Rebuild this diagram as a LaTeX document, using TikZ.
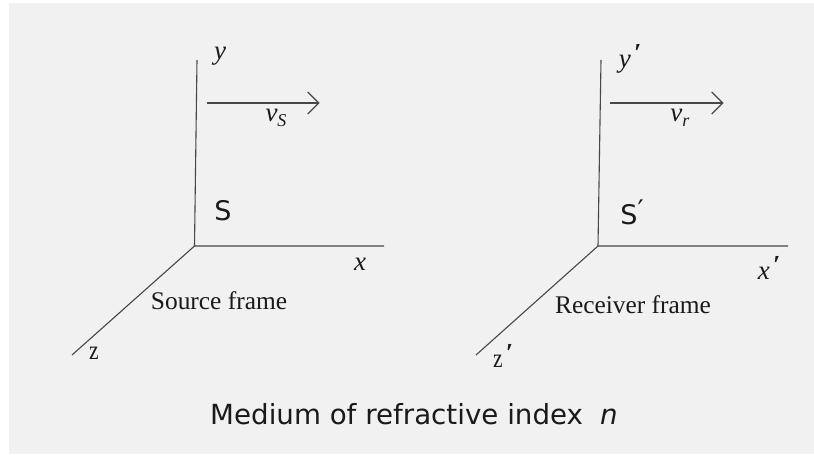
\documentclass[tikz,border=0pt]{standalone}
\usepackage{fontspec}
\usetikzlibrary{arrows.meta}
\setmainfont{Liberation Serif}
\newfontfamily\dejavu{DejaVu Sans}
\definecolor{panel}{HTML}{F1F1F1}
\definecolor{ink}{HTML}{1A1A1A}
\newcommand{\subtxt}[1]{\raisebox{-4.5pt}{\fontsize{18}{18}\selectfont\textit{#1}}}
\newcommand{\primemark}{\raisebox{6pt}{\fontsize{26}{26}\selectfont\textbf{\textit{\kern3pt\char"2032}}}}
\newcommand{\narrowz}{\scalebox{0.8}[1]{z}}
\begin{document}
\begin{tikzpicture}[x=1pt,y=-1pt,
  axisline/.style={draw=black!72,line width=1.1pt},
  velarrow/.style={draw=black!72,line width=1.1pt,-{Straight Barb[length=11pt,width=22pt,line width=1.1pt]}},
  serif/.style={inner sep=0pt,text=ink,font=\fontsize{27}{29}\selectfont},
  frameName/.style={inner sep=0pt,text=ink,font=\fontsize{25.4}{28}\selectfont},
  frameS/.style={inner sep=0pt,text=ink,font=\dejavu\fontsize{27}{29}\selectfont}]
\useasboundingbox (0,0) rectangle (814,455);
\fill[white] (0,0) rectangle (814,455);
\fill[panel] (9,3) rectangle (814,454);
% Source frame
\coordinate (o1) at (194.5,246);
\coordinate (y1) at (197,60);
\coordinate (x1) at (384,246);
\coordinate (z1) at (72,355);
\coordinate (a1) at (207,103);
\coordinate (b1) at (319.5,103);
\draw[axisline] (y1) -- (o1) -- (x1);
\draw[axisline] (o1) -- (z1);
\draw[velarrow] (a1) -- (b1);
\node[serif] (ly1) at (220,56) {\textit{y}};
\node[serif] (lx1) at (360,264) {\textit{x}};
\node[serif] (lz1) at (94,353) {\narrowz};
\node[serif] (lv1) at (276,118) {\textit{v}\subtxt{S}};
\node[frameS] (ls1) at (223,211) {S};
\node[frameName] (fn1) at (219,300.5) {Source frame};
% Receiver frame
\coordinate (o2) at (598,246);
\coordinate (y2) at (601,60);
\coordinate (x2) at (788,246);
\coordinate (z2) at (476,355);
\coordinate (a2) at (610,103);
\coordinate (b2) at (723.5,103);
\draw[axisline] (y2) -- (o2) -- (x2);
\draw[axisline] (o2) -- (z2);
\draw[velarrow] (a2) -- (b2);
\node[serif] (ly2) at (630,59) {\textit{y}\primemark};
\node[serif] (lx2) at (769,268) {\textit{x}\primemark};
\node[serif] (lz2) at (503,356) {\narrowz\primemark};
\node[serif] (lv2) at (680,118) {\textit{v}\subtxt{r}};
\node[frameS] (ls2) at (632,212) {S\raisebox{5pt}{\fontsize{27}{27}\selectfont\char"2032}};
\node[frameName] (fn2) at (633,305) {Receiver frame};
\node[inner sep=0pt,text=ink,font=\dejavu\fontsize{27.7}{30}\selectfont] (medium) at (414,414) {Medium of refractive index\hspace{0.62em}\textit{n}};
\end{tikzpicture}
\end{document}
